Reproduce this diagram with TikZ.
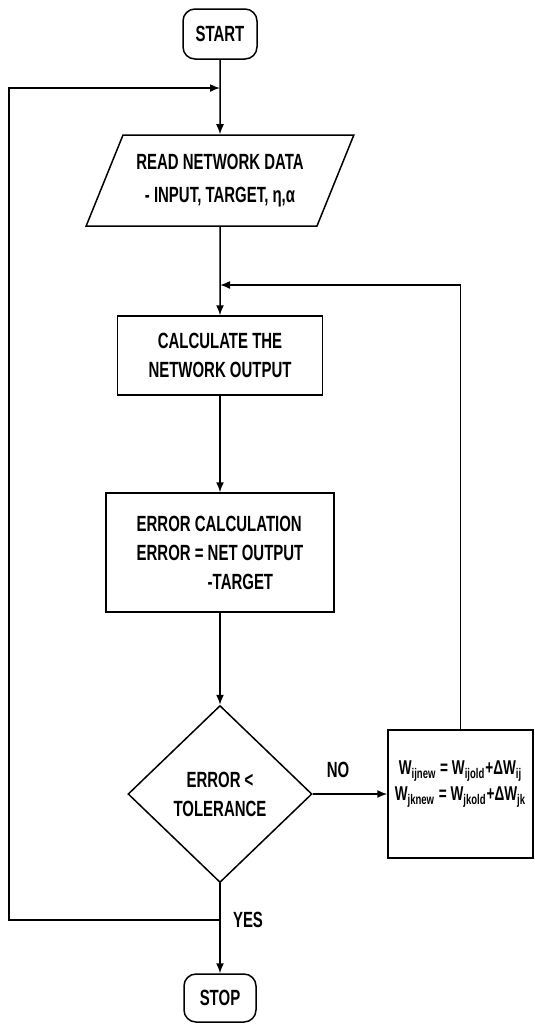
\documentclass[tikz,border=0pt]{standalone}
\usepackage{fontspec}
\setmainfont{Liberation Sans}[FakeStretch=0.68]
\usetikzlibrary{shapes.geometric,arrows.meta}
\tikzset{
  every node/.style={font=\bfseries\fontsize{11}{14.5}\selectfont},
  terminal/.style={draw, rectangle, rounded corners=6pt, inner sep=0pt,
    minimum width=37pt, minimum height=25pt},
  inout/.style={draw, trapezium, trapezium left angle=59, trapezium right angle=121,
    trapezium stretches=true, align=center, inner sep=0pt},
  process/.style={draw, rectangle, align=center, inner sep=0pt},
  decide/.style={draw, diamond, align=center, inner sep=0pt},
  flow/.style={-{Latex[length=5pt,width=4pt]}},
}

\begin{document}
\begin{tikzpicture}[x=0.5pt, y=-0.5pt, line width=0.75pt]
    \useasboundingbox (0,0) rectangle (535,1025);

    % coordinates to be reused
    \coordinate (J1) at (220,88);
    \coordinate (J2) at (220,285);
    \coordinate (J3) at (220,920);

    % draw figure
    \node [terminal] (start) at (220,34) {START};
    \node [inout, minimum width=134pt, minimum height=45.5pt] (read) at (220,180.5)
      {READ NETWORK DATA\\[2pt]- INPUT, TARGET, η,α};
    \node [process, minimum width=102.5pt, minimum height=39.5pt] (calc) at (220,355.5)
      {CALCULATE THE\\NETWORK OUTPUT};
    \node [process, minimum width=114pt, minimum height=59.5pt, align=left] (err) at (220,552.5)
      {ERROR CALCULATION\\ERROR = NET OUTPUT\\\phantom{ERROR = }-TARGET};
    \node [decide, minimum width=92pt, minimum height=88.5pt] (dec) at (220,794)
      {ERROR <\\TOLERANCE};
    \node [process, minimum width=72.5pt, minimum height=64pt,
      font=\bfseries\fontsize{10}{13}\selectfont] (upd) at (460.5,794)
      {W\textsubscript{ijnew} = W\textsubscript{ijold}+ΔW\textsubscript{ij}\\
       W\textsubscript{jknew} = W\textsubscript{jkold}+ΔW\textsubscript{jk}\\\mbox{}};
    \node [terminal, minimum width=36pt, minimum height=24pt] (stop) at (220,998) {STOP};

    % connectors
    \draw [flow] (start) -- (read);
    \draw [flow] (read) -- (calc);
    \draw [flow] (calc) -- (err);
    \draw [flow] (err) -- (dec);
    \draw [flow] (dec) -- (stop);
    \draw [flow] (dec) -- (upd);
    \draw [flow] (upd.north) |- (J2);
    \draw [flow] (J3) -- ++(-211,0) |- (J1);

    % add labels
    \node at (338,770) {NO};
    \node at (248,920) {YES};
\end{tikzpicture}
\end{document}
